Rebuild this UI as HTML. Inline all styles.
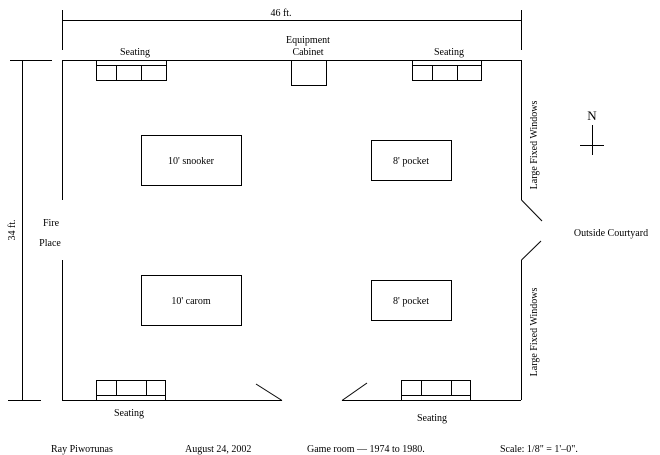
<!DOCTYPE html>
<html><head><style>body{margin:0;background:#fff}svg{display:block}text{font-family:"Liberation Serif",serif;font-size:10px;fill:#000}</style></head><body>
<svg width="660" height="455" viewBox="0 0 660 455" xmlns="http://www.w3.org/2000/svg">
<g stroke="#000" stroke-width="1" fill="none" shape-rendering="crispEdges">
<line x1="62" y1="20.5" x2="521" y2="20.5"/>
<line x1="62.5" y1="10" x2="62.5" y2="50"/>
<line x1="521.5" y1="10" x2="521.5" y2="50"/>
<line x1="22.5" y1="60" x2="22.5" y2="400"/>
<line x1="10" y1="60.5" x2="52" y2="60.5"/>
<line x1="8" y1="400.5" x2="41" y2="400.5"/>
<line x1="62" y1="60.5" x2="521" y2="60.5"/>
<line x1="62.5" y1="60" x2="62.5" y2="200"/>
<line x1="62.5" y1="260" x2="62.5" y2="400"/>
<line x1="62" y1="400.5" x2="282" y2="400.5"/>
<line x1="342" y1="400.5" x2="521" y2="400.5"/>
<line x1="521.5" y1="60" x2="521.5" y2="200"/>
<line x1="521.5" y1="260" x2="521.5" y2="400"/>
<rect x="96.5" y="60.5" width="70" height="20"/><line x1="96" y1="65.5" x2="166" y2="65.5"/><line x1="116.5" y1="65" x2="116.5" y2="80"/><line x1="141.5" y1="65" x2="141.5" y2="80"/>
<rect x="412.5" y="60.5" width="69" height="20"/><line x1="412" y1="65.5" x2="481" y2="65.5"/><line x1="432.5" y1="65" x2="432.5" y2="80"/><line x1="457.5" y1="65" x2="457.5" y2="80"/>
<rect x="291.5" y="60.5" width="35" height="25"/>
<rect x="96.5" y="380.5" width="69" height="20"/><line x1="96" y1="395.5" x2="165" y2="395.5"/><line x1="116.5" y1="380" x2="116.5" y2="395"/><line x1="146.5" y1="380" x2="146.5" y2="395"/>
<rect x="401.5" y="380.5" width="69" height="20"/><line x1="401" y1="395.5" x2="470" y2="395.5"/><line x1="421.5" y1="380" x2="421.5" y2="395"/><line x1="451.5" y1="380" x2="451.5" y2="395"/>
<rect x="141.5" y="135.5" width="100" height="50"/>
<rect x="371.5" y="140.5" width="80" height="40"/>
<rect x="141.5" y="275.5" width="100" height="50"/>
<rect x="371.5" y="280.5" width="80" height="40"/>
<line x1="592.5" y1="125" x2="592.5" y2="155"/>
<line x1="580" y1="145.5" x2="604" y2="145.5"/>
</g>
<g stroke="#000" stroke-width="1">
<line x1="521.5" y1="200" x2="542" y2="221"/>
<line x1="521.5" y1="260" x2="541" y2="241"/>
<line x1="256" y1="384" x2="282" y2="400.5"/>
<line x1="342" y1="400.5" x2="367" y2="383"/>
</g>
<text x="281" y="16" text-anchor="middle">46 ft.</text>
<text x="135" y="55" text-anchor="middle">Seating</text>
<text x="449" y="55" text-anchor="middle">Seating</text>
<text x="308" y="43" text-anchor="middle">Equipment</text>
<text x="308" y="55" text-anchor="middle">Cabinet</text>
<text x="191" y="164" text-anchor="middle">10' snooker</text>
<text x="411" y="164" text-anchor="middle">8' pocket</text>
<text x="191" y="304" text-anchor="middle">10' carom</text>
<text x="411" y="304" text-anchor="middle">8' pocket</text>
<text x="51" y="226" text-anchor="middle">Fire</text>
<text x="50" y="246" text-anchor="middle">Place</text>
<text transform="translate(15,230) rotate(-90)" text-anchor="middle">34 ft.</text>
<text transform="translate(537,145) rotate(-90)" text-anchor="middle">Large Fixed Windows</text>
<text transform="translate(537,332) rotate(-90)" text-anchor="middle">Large Fixed Windows</text>
<text x="611" y="236" text-anchor="middle">Outside Courtyard</text>
<text x="592" y="120" text-anchor="middle" style="font-size:13px">N</text>
<text x="129" y="416" text-anchor="middle">Seating</text>
<text x="432" y="421" text-anchor="middle">Seating</text>
<text x="51" y="452">Ray Piwoтunas</text>
<text x="185" y="452">August 24, 2002</text>
<text x="307" y="452">Game room —  1974 to 1980.</text>
<text x="500" y="452">Scale: 1/8" = 1'–0".</text>
</svg>
</body></html>
